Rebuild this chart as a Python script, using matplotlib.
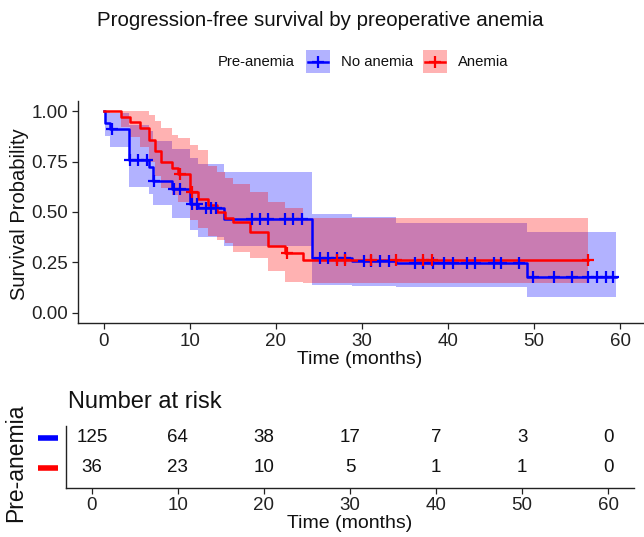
import numpy as np
import matplotlib
matplotlib.use('Agg')
import matplotlib.pyplot as plt
from matplotlib.patches import Rectangle
from matplotlib.lines import Line2D

plt.rcParams['font.family'] = ['Liberation Sans', 'DejaVu Sans']

# No anemia (blue)
blue_t = [0, 0.1, 0.7, 2.9, 5.2, 5.7, 7.9, 10.0, 11.0, 14.0, 24.2, 28.8, 34.0, 49.15]
blue_s = [1.0, 0.94, 0.912, 0.756, 0.724, 0.655, 0.612, 0.538, 0.518, 0.465, 0.27, 0.255, 0.245, 0.178]
blue_lo = [1.0, 0.875, 0.823, 0.625, 0.59, 0.535, 0.469, 0.41, 0.378, 0.33, 0.14, 0.135, 0.13, 0.08]
blue_hi = [1.0, 1.0, 0.99, 0.93, 0.90, 0.85, 0.81, 0.77, 0.74, 0.70, 0.49, 0.475, 0.445, 0.40]
blue_end = 59.5
blue_cens = [0.9, 3.0, 4.0, 5.0, 5.8, 8.1, 8.8, 10.3, 10.8, 11.9, 12.5, 13.0, 17.2, 18.1, 19.1,
             21.0, 22.0, 23.0, 25.1, 26.0, 27.1, 28.0, 30.2, 31.1, 32.1, 33.1, 36.2, 37.1, 38.3,
             39.5, 40.6, 42.2, 43.1, 45.3, 46.2, 48.2, 49.9, 52.3, 54.4, 56.3, 57.3, 58.3, 59.2]

# Anemia (red)
red_t = [0, 2.0, 3.0, 4.2, 5.2, 5.9, 6.7, 7.9, 8.6, 10.0, 11.0, 12.1, 13.1, 14.1, 15.0, 17.0, 19.1, 21.0, 23.2]
red_s = [1.0, 0.972, 0.944, 0.914, 0.857, 0.80, 0.75, 0.72, 0.69, 0.60, 0.565, 0.535, 0.50, 0.469, 0.452, 0.40, 0.33, 0.295, 0.262]
red_lo = [1.0, 0.92, 0.87, 0.82, 0.75, 0.68, 0.62, 0.585, 0.55, 0.46, 0.42, 0.38, 0.36, 0.345, 0.30, 0.27, 0.21, 0.155, 0.15]
red_hi = [1.0, 1.0, 1.0, 1.0, 0.98, 0.95, 0.915, 0.88, 0.865, 0.83, 0.805, 0.73, 0.70, 0.67, 0.64, 0.60, 0.55, 0.52, 0.47]
red_end = 56.3
red_cens = [8.8, 10.2, 21.3, 27.1, 28.0, 31.1, 34.0, 37.1, 38.1, 56.3]

risk_times = [0, 10, 20, 30, 40, 50, 60]
risk_blue = [125, 64, 38, 17, 7, 3, 0]
risk_red = [36, 23, 10, 5, 1, 1, 0]

W, H = 644, 537
def fx(x): return x / W
def fy(y): return 1 - y / H

fig = plt.figure(figsize=(W / 100, H / 100), dpi=100, facecolor='white')

# main survival panel
ax = fig.add_axes((fx(78), fy(323), (646 - 78) / W, (323 - 101) / H))

def draw_group(t, s, lo, hi, end, col):
    tt = np.r_[t, end]
    ss = np.r_[s, s[-1]]
    ll = np.r_[lo, lo[-1]]
    uu = np.r_[hi, hi[-1]]
    ax.fill_between(tt, ll, uu, step='post', color=col, alpha=0.3, lw=0)
    return tt, ss

bt, bs = draw_group(blue_t, blue_s, blue_lo, blue_hi, blue_end, 'blue')
rt, rs = draw_group(red_t, red_s, red_lo, red_hi, red_end, 'red')
ax.step(bt, bs, where='post', color='blue', lw=1.8)
ax.step(rt, rs, where='post', color='red', lw=1.8)

for t, s, cens, col in [(blue_t, blue_s, blue_cens, 'blue'), (red_t, red_s, red_cens, 'red')]:
    idx = np.searchsorted(t, cens, side='right') - 1
    ax.plot(cens, np.array(s)[idx], ls='none', marker='+', ms=9, mew=1.6, color=col)

ax.set_xlim(-3, 63)
ax.set_ylim(-0.05, 1.05)
ax.set_xticks([0, 10, 20, 30, 40, 50, 60])
ax.set_yticks([0, 0.25, 0.5, 0.75, 1.0])
ax.set_yticklabels(['0.00', '0.25', '0.50', '0.75', '1.00'])
for sp in ['top', 'right']:
    ax.spines[sp].set_visible(False)
for sp in ['left', 'bottom']:
    ax.spines[sp].set_linewidth(1.0)
    ax.spines[sp].set_color('#222222')
ax.tick_params(length=4, width=0.9, color='#222222', labelsize=13.5, labelcolor='#222222', pad=3)

fig.text(fx(20), fy(214), 'Survival Probability', rotation=90, ha='center', va='center', size=14.5, color='#111111')
fig.text(fx(360), fy(359), 'Time (months)', ha='center', va='center', size=14, color='#111111')
fig.text(fx(320), fy(20), 'Progression-free survival by preoperative anemia', ha='center', va='center', size=14.8, color='#111111')

# legend
fig.text(fx(218), fy(62), 'Pre-anemia', ha='left', va='center', size=10.7, color='#111111')
for x0, col, lab in [(306, 'blue', 'No anemia'), (423, 'red', 'Anemia')]:
    fig.add_artist(Rectangle((fx(x0), fy(73)), 24 / W, 23 / H, transform=fig.transFigure,
                             facecolor=col, alpha=0.3, lw=0))
    fig.add_artist(Line2D([fx(x0 + 2), fx(x0 + 22)], [fy(62), fy(62)], transform=fig.transFigure,
                          color=col, lw=1.8))
    fig.add_artist(Line2D([fx(x0 + 12)], [fy(62)], transform=fig.transFigure, color=col,
                          marker='+', ms=9, mew=1.6))
    fig.text(fx(x0 + 35), fy(62), lab, ha='left', va='center', size=10.7, color='#111111')

# risk table
rax = fig.add_axes((fx(66), fy(487.5), (634 - 66) / W, (487.5 - 426) / H))
rax.set_xlim(-3, 63)
rax.set_ylim(0.35, 2.4)
for t, nb, nr in zip(risk_times, risk_blue, risk_red):
    rax.text(t, 2, str(nb), ha='center', va='center', size=13.5, color='#111111')
    rax.text(t, 1, str(nr), ha='center', va='center', size=13.5, color='#111111')
rax.set_xticks(risk_times)
rax.set_yticks([])
for sp in ['top', 'right']:
    rax.spines[sp].set_visible(False)
for sp in ['left', 'bottom']:
    rax.spines[sp].set_linewidth(1.0)
    rax.spines[sp].set_color('#222222')
rax.tick_params(length=4, width=0.9, color='#222222', labelsize=13.5, labelcolor='#222222', pad=3)
ytr = rax.get_yaxis_transform()
rax.plot([-0.05, -0.014], [2, 2], transform=ytr, clip_on=False, color='blue', lw=4, solid_capstyle='butt')
rax.plot([-0.05, -0.014], [1, 1], transform=ytr, clip_on=False, color='red', lw=4, solid_capstyle='butt')

fig.text(fx(68), fy(402), 'Number at risk', ha='left', va='center', size=17, color='#111111')
fig.text(fx(16), fy(463), 'Pre-anemia', rotation=90, ha='center', va='center', size=16.5, color='#111111')
fig.text(fx(350), fy(523), 'Time (months)', ha='center', va='center', size=14, color='#111111')

fig.savefig('out.png', dpi=100)
